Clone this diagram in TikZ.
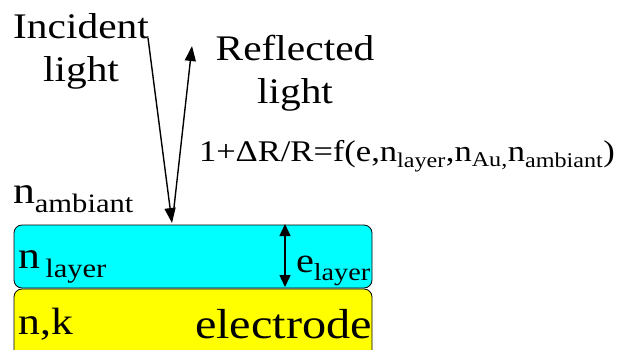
\documentclass[tikz,border=0pt]{standalone}
\usepackage{fontspec}
\setmainfont{Liberation Serif}[FakeStretch=1.15]
\usetikzlibrary{positioning,arrows.meta}
\definecolor{layercyan}{RGB}{0,255,255}
\definecolor{electrodeyellow}{RGB}{255,255,0}

\begin{document}
\begin{tikzpicture}[
    x=1pt,y=-1pt,
    every node/.style={inner sep=0pt,outer sep=0pt},
    slab/.style={draw,line width=0.8pt,rounded corners=8pt,minimum width=358pt,anchor=north west},
    bigtxt/.style={font=\fontsize{36}{43}\selectfont,align=center},
    lbl/.style={font=\fontsize{38}{44}\selectfont,anchor=base west},
    ray/.style={line width=1.4pt,-{Triangle[length=15pt,width=11pt]}},
    thick2/.style={line width=1.4pt,{Triangle[length=12pt,width=11pt]}-{Triangle[length=12pt,width=11pt]}},
]
\useasboundingbox (0,0) rectangle (621,349);

% layers
\node[slab,fill=electrodeyellow,minimum height=80pt] (electrode) at (14,289) {};
\node[slab,fill=layercyan,minimum height=63pt] (layer) at (14,225) {};

% light rays
\coordinate (inctail) at (148,38);
\coordinate (hit) at (172,223);
\coordinate (refbase) at (173.5,212);
\coordinate (reftip) at (192,46);
\draw[ray] (inctail) -- (hit);
\draw[ray] (refbase) -- (reftip);

% thickness
\coordinate (etop) at (285,224);
\coordinate (ebot) at (285,287);
\draw[thick2] (etop) -- (ebot);

% texts
\node[bigtxt,anchor=base] (inc) at (81,81) {Incident\\light};
\node[bigtxt,anchor=base] (refl) at (295,103) {Reflected\\light};
\node[font=\fontsize{30}{34}\selectfont,anchor=base west] (formula) at (199,161)
  {1+ΔR/R=f(e,n\textsubscript{layer},n\textsubscript{Au,}n\textsubscript{ambiant})};
\node[lbl] (namb) at (13,203) {n\textsubscript{ambiant}};
\node[lbl] (nlay) at (19,268) {n\textsubscript{\,layer}};
\node[lbl,font=\fontsize{35}{44}\selectfont] (elay) at (296,272) {e\textsubscript{layer}};
\node[lbl] (nk) at (19,334) {n,k};
\node[lbl,font=\fontsize{42}{44}\selectfont] (elec) at (195,338) {electrode};
\end{tikzpicture}
\end{document}
